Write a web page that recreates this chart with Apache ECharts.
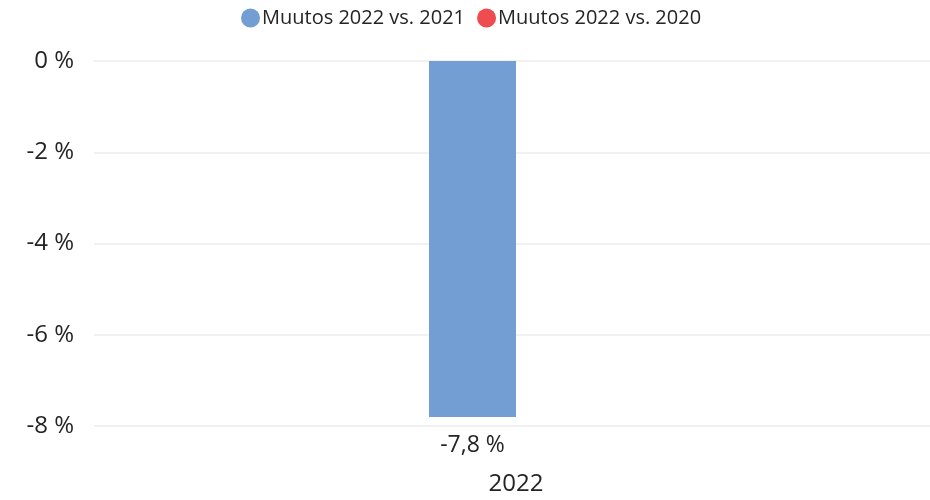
<!DOCTYPE html>
<html>
<head>
<meta charset="utf-8">
<script src="https://cdn.jsdelivr.net/npm/echarts@6/dist/echarts.min.js"></script>
<style>
  html, body { margin: 0; padding: 0; background: #fff; }
  #container { width: 930px; height: 500px; }
</style>
</head>
<body>
<div id="container"></div>
<script>
let categories = ['2022'];
let seriesNames = ['Muutos 2022 vs. 2021', 'Muutos 2022 vs. 2020'];
let vs2021 = [-7.8];
let vs2020 = [null];
let yTicks = [0, -2, -4, -6, -8];

let font = '"Open Sans", "Noto Sans", sans-serif';

function pct(v) {
    return String(v).replace('.', ',') + ' %';
}

let chart = echarts.init(document.getElementById('container'));

chart.setOption({
    animation: false,
    textStyle: { fontFamily: font },
    legend: {
        top: 3,
        left: 236,
        icon: 'circle',
        itemWidth: 19,
        itemHeight: 19,
        itemGap: 12,
        textStyle: { fontSize: 20, color: '#252423', fontFamily: font, padding: [0, 0, 0, -3] },
        data: seriesNames
    },
    grid: { left: 94, right: -8, top: 61, bottom: 74, outerBoundsMode: 'none' },
    xAxis: {
        type: 'category',
        data: categories,
        axisLine: { show: false },
        axisTick: { show: false },
        axisLabel: { fontSize: 24, color: '#252423', margin: 46 }
    },
    yAxis: {
        type: 'value',
        min: yTicks[yTicks.length - 1],
        max: yTicks[0],
        interval: 2,
        axisLabel: {
            fontSize: 24,
            color: '#252423',
            margin: 20,
            formatter: (v) => pct(v)
        },
        splitLine: { lineStyle: { color: '#ececec', width: 1.5 } }
    },
    series: [
        {
            name: seriesNames[0],
            type: 'bar',
            data: vs2021,
            barWidth: 87,
            barGap: '0%',
            itemStyle: { color: '#739ed4' },
            label: {
                show: true,
                position: 'bottom',
                distance: 17,
                fontSize: 23,
                color: '#252423',
                formatter: (p) => pct(p.value)
            }
        },
        {
            name: seriesNames[1],
            type: 'bar',
            data: vs2020,
            barWidth: 87,
            barGap: '0%',
            itemStyle: { color: '#ef4c4f' }
        }
    ]
});
</script>
</body>
</html>
